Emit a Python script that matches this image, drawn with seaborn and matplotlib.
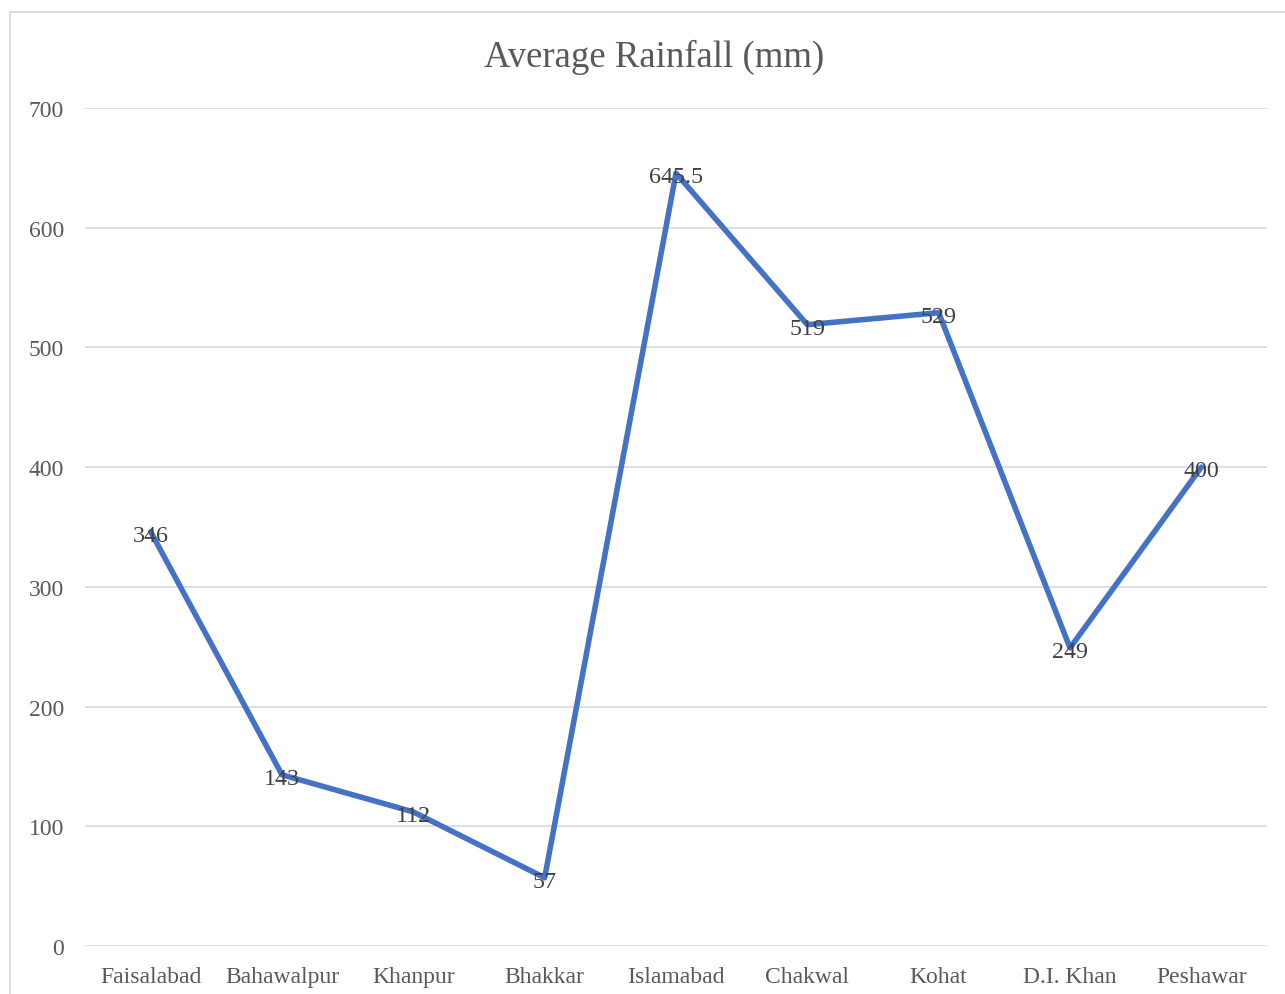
import matplotlib
matplotlib.use("Agg")
import matplotlib.pyplot as plt
import matplotlib.patches as mpatches
import seaborn as sns
import pandas as pd

cities = ["Faisalabad", "Bahawalpur", "Khanpur", "Bhakkar", "Islamabad",
          "Chakwal", "Kohat", "D.I. Khan", "Peshawar"]
rainfall = [346, 143, 112, 57, 645.5, 519, 529, 249, 400]
labels = ["346", "143", "112", "57", "645.5", "519", "529", "249", "400"]
yticks = [0, 100, 200, 300, 400, 500, 600, 700]
title = "Average Rainfall (mm)"

sns.set_theme(style="white")
plt.rcParams['font.family'] = ['Liberation Serif', 'DejaVu Serif']

W, H = 1285, 995
fig = plt.figure(figsize=(W / 100, H / 100), dpi=100)
ax = fig.add_axes([85 / W, 1 - 947 / H, (1267 - 85) / W, (947 - 109) / H])

df = pd.DataFrame({"city": cities, "rain": rainfall})
sns.lineplot(data=df, x="city", y="rain", sort=False, ax=ax,
             color="#4472C4", linewidth=4.0, solid_joinstyle="round")

for i, (v, t) in enumerate(zip(rainfall, labels)):
    ax.annotate(t, (i, v), xytext=(0, -2.5), textcoords="offset points",
                ha="center", va="center", fontsize=17.3, color="#404040")

ax.set_xlim(-0.5, len(cities) - 0.5)
ax.set_ylim(0, 700)
ax.set_yticks(yticks)
ax.set_yticklabels([str(y) for y in yticks])
ax.yaxis.grid(True, color="#D9D9D9", linewidth=1.2)
ax.xaxis.grid(False)
ax.set_axisbelow(True)
for s in ax.spines.values():
    s.set_visible(False)
ax.tick_params(axis="both", length=0, labelsize=17, labelcolor="#595959")
ax.tick_params(axis="y", pad=15)
ax.tick_params(axis="x", pad=14.5)
ax.set_xlabel("")
ax.set_ylabel("")

fig.text(654 / W, 1 - 57 / H, title, ha="center", va="center",
         fontsize=26.5, color="#595959")

rect = mpatches.Rectangle((10 / W, -0.05), 1.2, 1 - 13 / H + 0.05,
                          transform=fig.transFigure, fill=False,
                          edgecolor="#D9D9D9", linewidth=1.3)
fig.patches.append(rect)

fig.savefig("out.png", dpi=100, facecolor="white")
